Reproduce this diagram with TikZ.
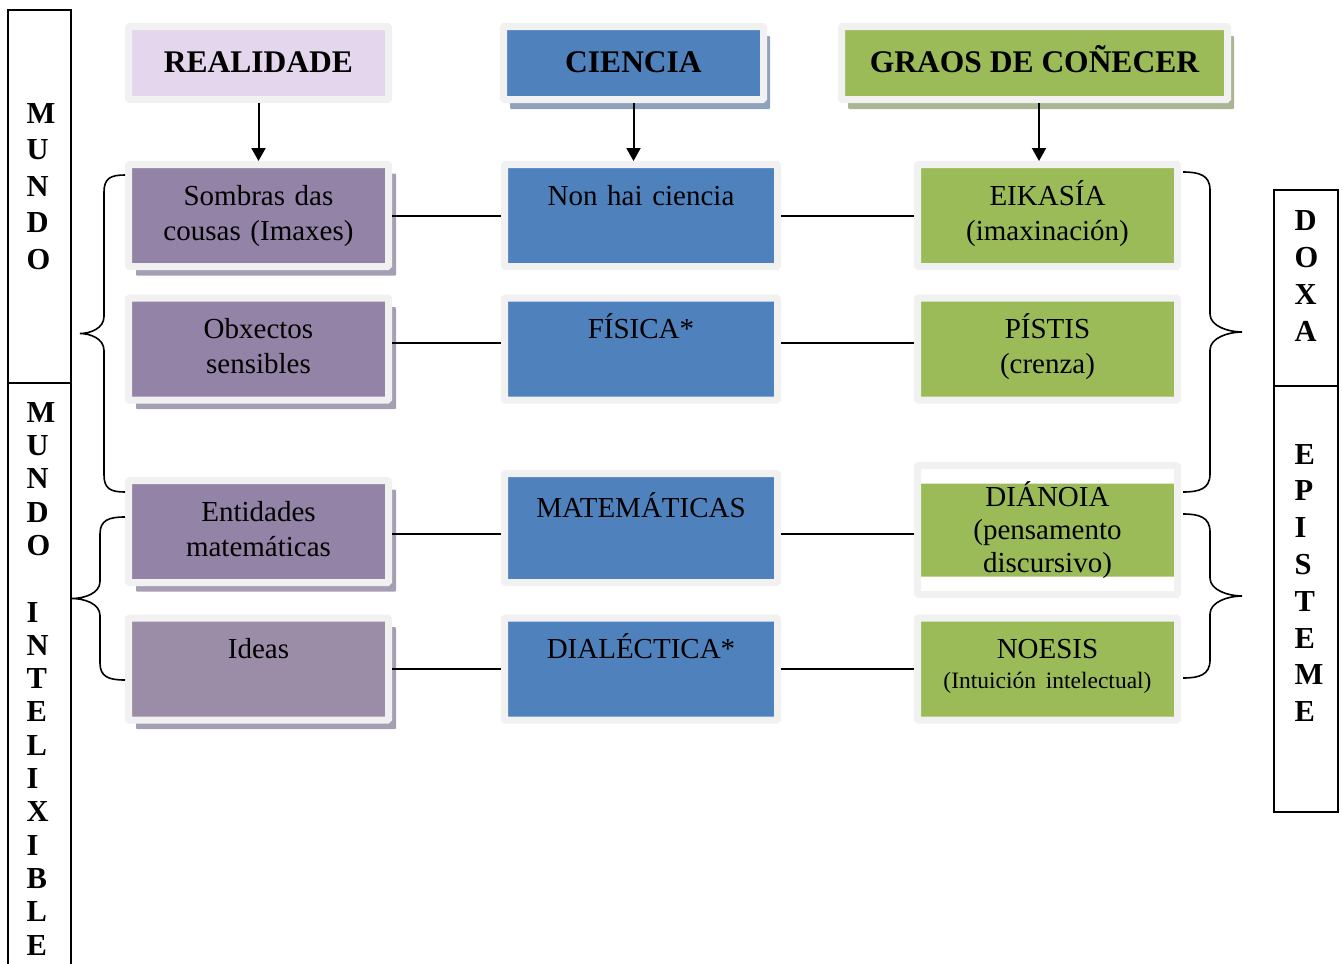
\documentclass[tikz,border=0pt]{standalone}
\usepackage{fontspec}
\setmainfont{Liberation Serif}
\usetikzlibrary{shadows, arrows.meta}
\definecolor{framegray}{RGB}{241,241,241}
\definecolor{lila}{RGB}{228,214,236}
\definecolor{purplebox}{RGB}{147,131,166}
\definecolor{ideasbox}{RGB}{155,141,168}
\definecolor{purpleshadow}{RGB}{166,159,180}
\definecolor{bluebox}{RGB}{79,129,189}
\definecolor{blueshadow}{RGB}{143,162,188}
\definecolor{greenbox}{RGB}{155,187,89}
\definecolor{greenshadow}{RGB}{169,181,147}
\newcommand{\cellfont}{\fontsize{29}{35}\selectfont}
\newcommand{\headfont}{\fontsize{31.5}{36}\selectfont\bfseries}
\tikzstyle{cell} = [draw=framegray, line width=7pt, rounded corners=1pt, minimum width=260pt, minimum height=102pt, text width=250pt, align=center, inner sep=0pt, font=\cellfont]
\tikzstyle{widecell} = [cell, minimum width=273pt, text width=263pt]
\tikzstyle{head} = [draw=framegray, line width=7pt, rounded corners=1pt, minimum height=73pt, text height=18pt, text depth=0pt, font=\headfont]
\tikzstyle{pshadow} = [drop shadow={shadow xshift=7.5pt, shadow yshift=-9pt, fill=purpleshadow, opacity=1}]
\tikzstyle{bshadow} = [drop shadow={shadow xshift=6.5pt, shadow yshift=-9.5pt, fill=blueshadow, opacity=1}]
\tikzstyle{gshadow} = [drop shadow={shadow xshift=6.5pt, shadow yshift=-9.5pt, fill=greenshadow, opacity=1}]
\tikzstyle{link} = [line width=2pt]
\tikzstyle{downarrow} = [line width=2pt, -{Triangle[width=14pt,length=13pt]}]
\tikzstyle{curly} = [line width=1.6pt]
\tikzstyle{sidebox} = [draw, line width=2pt, inner sep=0pt]
\tikzstyle{vletters} = [text width=34pt, align=flush left, inner sep=0pt, anchor=north west]

\begin{document}
\begin{tikzpicture}[x=1pt, y=-1pt]
\useasboundingbox (0,0) rectangle (1342,964);

% side columns
\node[sidebox, minimum width=63pt, minimum height=373pt] (mundo) at (39.5,196.5) {};
\node[sidebox, minimum width=63pt, minimum height=600pt] (intelixible) at (39.5,683) {};
\node[sidebox, minimum width=64pt, minimum height=196pt] (doxa) at (1306,288) {};
\node[sidebox, minimum width=64pt, minimum height=426pt] (episteme) at (1306,599) {};
\node[vletters, font=\fontsize{30.5}{36.5}\selectfont\bfseries] (mundotxt) at (26.5,97.5) {\strut M\\U\\N\\D\\O};
\node[vletters, font=\fontsize{30.5}{33.3}\selectfont\bfseries] (intelixibletxt) at (26.5,398.7) {\strut M\\U\\N\\D\\O\\\mbox{}\\I\\N\\T\\E\\L\\I\\X\\I\\B\\L\\E};
\node[vletters, font=\fontsize{30.5}{37}\selectfont\bfseries] (doxatxt) at (1294.5,204.1) {\strut D\\O\\X\\A};
\node[vletters, font=\fontsize{30.5}{36.8}\selectfont\bfseries] (epistemetxt) at (1294.5,438.2) {\strut E\\P\\I\\S\\T\\E\\M\\E};

% headers
\node[head, fill=lila, minimum width=260pt] (realidade) at (258.5,63) {REALIDADE};
\node[head, fill=bluebox, minimum width=260pt, bshadow] (ciencia) at (633.5,63) {CIENCIA};
\node[head, fill=greenbox, minimum width=386pt, gshadow] (graos) at (1034.5,63) {GRAOS DE COÑECER};

% realidade
\node[cell, fill=purplebox, pshadow] (sombras) at (258.5,215.5) {\strut Sombras das\\\strut cousas (Imaxes)};
\node[cell, fill=purplebox, pshadow] (obxectos) at (258.5,349) {\strut Obxectos\\\strut sensibles};
\node[cell, fill=purplebox, pshadow] (entidades) at (258.5,531.5) {\strut Entidades\\\strut matemáticas};
\node[cell, fill=ideasbox, pshadow] (ideas) at (258.5,669) {\strut Ideas\\\strut};

% ciencia
\node[widecell, fill=bluebox] (nonhai) at (641,215.5) {\strut Non hai ciencia\\\strut};
\node[widecell, fill=bluebox] (fisica) at (641,349) {\strut FÍSICA*\\\strut};
\node[widecell, fill=bluebox, minimum height=109pt] (matematicas) at (641,528) {\strut MATEMÁTICAS\\\strut};
\node[widecell, fill=bluebox] (dialectica) at (641,669) {\strut DIALÉCTICA*\\\strut};

% graos de coñecer
\node[cell, fill=greenbox] (eikasia) at (1047.5,215.5) {\strut EIKASÍA\\\strut (imaxinación)};
\node[cell, fill=greenbox] (pistis) at (1047.5,349) {\strut PÍSTIS\\\strut (crenza)};
\node[cell, fill=white, minimum height=129pt, font=\fontsize{29}{33}\selectfont,
  path picture={\fill[greenbox] ([yshift=46.5pt]path picture bounding box.west) rectangle ([yshift=-46.5pt]path picture bounding box.east);}]
  (dianoia) at (1047.5,530) {\strut DIÁNOIA\\(pensamento\\discursivo)};
\node[cell, fill=greenbox] (noesis) at (1047.5,669) {\strut NOESIS\\[-5pt]{\fontsize{23.5}{30}\selectfont (Intuición intelectual)\rule[-16pt]{0pt}{16pt}}};

% arrows
\coordinate (graosfoot) at ([xshift=4.5pt]graos.south);
\draw[downarrow] (realidade) -- (sombras);
\draw[downarrow] (ciencia.south) -- (ciencia.south |- nonhai.north);
\draw[downarrow] (graosfoot) -- (graosfoot |- eikasia.north);

% rows
\draw[link] (sombras) -- (nonhai);
\draw[link] (nonhai) -- (eikasia);
\draw[link] ([yshift=6pt]obxectos.east) -- ([yshift=6pt]fisica.west);
\draw[link] ([yshift=6pt]fisica.east) -- ([yshift=6pt]pistis.west);
\draw[link] ([yshift=-2.5pt]entidades.east) -- ([yshift=-6pt]matematicas.west);
\draw[link] ([yshift=-6pt]matematicas.east) -- ([yshift=-4pt]dianoia.west);
\draw[link] (ideas) -- (dialectica);
\draw[link] (dialectica) -- (noesis);

% braces
\draw[curly] ([yshift=-14pt]sombras.north west) .. controls +(-14,0) and +(0,-14) .. ++(-21,17) -- ++(0,124.5) .. controls +(0,12) and +(10,0) .. ++(-24,17) .. controls +(10,0) and +(0,-12) .. ++(24,17) -- ++(0,124.5) .. controls +(0,14) and +(-14,0) .. ++(21,17);
\draw[curly] ([yshift=14.5pt]entidades.west) .. controls +(-16,0) and +(0,-14) .. ++(-25,17) -- ++(0,47.5) .. controls +(0,12) and +(12,0) .. ++(-28,17) .. controls +(12,0) and +(0,-12) .. ++(28,17) -- ++(0,47.5) .. controls +(0,14) and +(-16,0) .. ++(25,17);
\draw[curly] ([xshift=2pt,yshift=-11pt]eikasia.north east) .. controls +(16,0) and +(0,-15) .. ++(27,18) -- ++(0,124) .. controls +(0,12) and +(-14,0) .. ++(32,18) .. controls +(-14,0) and +(0,-12) .. ++(-32,18) -- ++(0,124) .. controls +(0,15) and +(16,0) .. ++(-27,18);
\draw[curly] ([xshift=2pt,yshift=16pt]dianoia.east) .. controls +(16,0) and +(0,-15) .. ++(27,18) -- ++(0,46) .. controls +(0,12) and +(-14,0) .. ++(32,18) .. controls +(-14,0) and +(0,-12) .. ++(-32,18) -- ++(0,46) .. controls +(0,15) and +(16,0) .. ++(-27,18);
\end{tikzpicture}
\end{document}
